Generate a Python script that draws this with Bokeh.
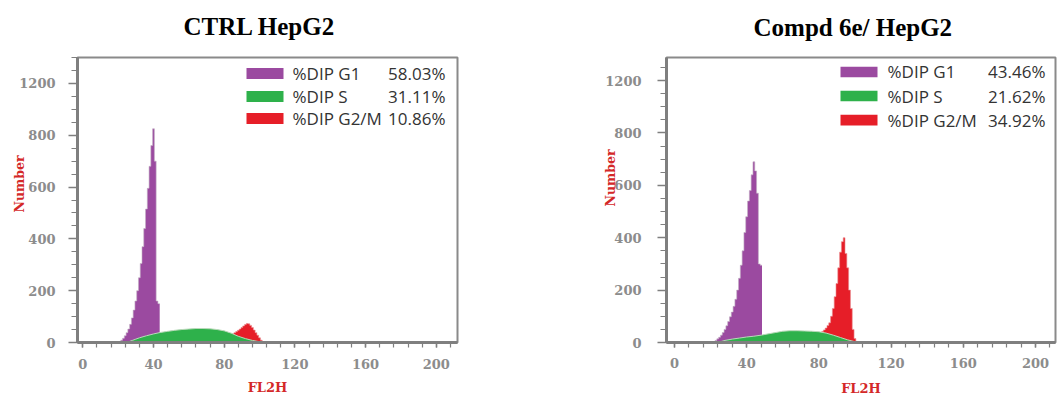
from bokeh.plotting import figure
from bokeh.layouts import row
from bokeh.models import FixedTicker, Label, BoxAnnotation, Range1d, Title
from bokeh.embed import file_html
from bokeh.resources import INLINE

# ---------------- data ----------------
# CTRL HepG2
ctrl_g1_x = list(range(20, 44))
ctrl_g1_n = [0, 4, 9, 16, 26, 38, 52, 70, 95, 125, 160, 200, 250, 305, 370, 440,
             515, 595, 680, 760, 825, 700, 160, 150]
ctrl_s_x = [24, 26, 28, 30, 32, 36, 40, 44, 48, 52, 56, 60, 64, 68, 72, 76, 80,
            84, 88, 92, 96, 100, 102]
ctrl_s_n = [0, 3, 8, 13, 18, 26, 33, 39, 43, 47, 50, 52, 54, 54, 53, 50, 45,
            36, 24, 15, 8, 3, 0]
ctrl_g2_x = list(range(85, 103))
ctrl_g2_n = [34, 38, 42, 47, 52, 58, 64, 69, 73, 72, 66, 58, 48, 38, 28, 18, 9, 3]
ctrl_labels = ["%DIP G1", "%DIP S", "%DIP G2/M"]
ctrl_pcts = ["58.03%", "31.11%", "10.86%"]

# Compd 6e / HepG2
compd_g1_x = list(range(22, 49))
compd_g1_n = [3, 8, 14, 20, 28, 38, 50, 64, 80, 98, 116, 138, 165, 200, 245, 295,
              350, 420, 480, 540, 580, 640, 690, 655, 570, 300, 295]
compd_s_x = [24, 28, 32, 36, 40, 44, 48, 52, 56, 60, 64, 68, 72, 76, 80, 84, 88,
             92, 96, 100, 102]
compd_s_n = [0, 8, 13, 17, 21, 24, 28, 33, 38, 43, 45, 45, 44, 43, 41, 36, 28,
             19, 10, 3, 0]
compd_g2_x = list(range(82, 102))
compd_g2_n = [42, 48, 55, 65, 75, 100, 130, 175, 225, 285, 345, 385, 400, 340,
              285, 200, 130, 50, 15, 4]
compd_labels = ["%DIP G1", "%DIP S", "%DIP G2/M"]
compd_pcts = ["43.46%", "21.62%", "34.92%"]

x_ticks = [0, 40, 80, 120, 160, 200]
y_ticks = [0, 200, 400, 600, 800, 1000]
y_tick_text = {1000: "1200"}

PURPLE = "#9b4aa0"
GREEN = "#2eb14b"
RED = "#e61e28"
GRAY = "#8c8c8c"
AXRED = "#d42828"


def step_outline(centers, counts):
    xs, ys = [], []
    for c, n in zip(centers, counts):
        xs += [c - 0.5, c + 0.5]
        ys += [n, n]
    return xs, ys


def make_panel(title, g1x, g1n, sx, sn, g2x, g2n, labels, pcts, geo):
    W, H = geo["W"], geo["H"]
    bl, bt = geo["bl"], geo["bt"]
    fw, fh = geo["fw"], geo["fh"]
    x0, x1 = geo["xr"]
    y0, y1 = geo["yr"]
    p = figure(width=W, height=H, output_backend="svg", toolbar_location=None,
               x_range=Range1d(x0, x1), y_range=Range1d(y0, y1), title=None)
    p.min_border_left = bl
    p.min_border_top = bt
    p.min_border_right = W - bl - fw
    p.min_border_bottom = H - bt - fh
    p.background_fill_color = "white"
    p.border_fill_color = "white"
    p.outline_line_color = "#8a8a8a"
    p.outline_line_width = 2
    p.xgrid.visible = False
    p.ygrid.visible = False

    def dx(px):
        return x0 + (px - bl) * (x1 - x0) / fw

    def dy(py):
        return y1 - (py - bt) * (y1 - y0) / fh

    gx, gy = step_outline(g1x, g1n)
    p.varea(x=gx, y1=[0] * len(gx), y2=gy, fill_color=PURPLE)
    p.line(x=gx, y=gy, line_color="#c2aec3", line_width=1, line_alpha=0.6)
    rx, ry_ = step_outline(g2x, g2n)
    p.varea(x=rx, y1=[0] * len(rx), y2=ry_, fill_color=RED)
    p.line(x=rx, y=ry_, line_color="#e98a8e", line_width=1, line_alpha=0.6)
    p.varea(x=sx, y1=[0] * len(sx), y2=sn, fill_color=GREEN)
    p.line(x=sx, y=sn, line_color="#b9d9b9", line_width=1)

    for ax in (p.xaxis[0], p.yaxis[0]):
        ax.axis_line_color = "#7f7f7f"
        ax.axis_line_width = 3
        ax.major_tick_line_color = "#7f7f7f"
        ax.minor_tick_line_color = "#7f7f7f"
        ax.major_tick_line_width = 1.5
        ax.minor_tick_line_width = 1.2
        ax.major_tick_in = 0
        ax.minor_tick_in = 0
        ax.major_label_text_font = "DejaVu Serif"
        ax.major_label_text_font_style = "bold"
        ax.major_label_text_font_size = "13px"
        ax.major_label_text_color = GRAY

    p.xaxis.ticker = FixedTicker(ticks=x_ticks, minor_ticks=list(range(0, 212, 8)))
    p.xaxis.major_tick_out = 5
    p.xaxis.minor_tick_out = 5
    p.xaxis.major_label_standoff = geo["xstand"]
    p.xaxis.axis_label = "FL2H"
    p.xaxis.axis_label_standoff = geo["fl2h_stand"]
    p.xaxis.axis_label_text_font = "DejaVu Serif"
    p.xaxis.axis_label_text_font_style = "bold"
    p.xaxis.axis_label_text_font_size = "13px"
    p.xaxis.axis_label_text_color = AXRED

    p.yaxis.ticker = FixedTicker(ticks=y_ticks, minor_ticks=list(range(0, int(y1) + 1, 50)))
    p.yaxis.major_label_overrides = y_tick_text
    p.yaxis.major_tick_out = 9
    p.yaxis.minor_tick_out = 6
    p.yaxis.major_label_standoff = geo["ystand"]

    num = Title(text="Number", align="left", offset=geo["num_off"],
                standoff=geo["num_stand"], text_font="DejaVu Serif",
                text_font_style="bold", text_font_size="12.5px",
                text_color=AXRED)
    p.add_layout(num, "left")

    # spacer between frame and title, then the title itself
    p.add_layout(Title(text=" ", text_font_size=geo["spacer"], standoff=0), "above")
    p.add_layout(Title(text=title, align="left", offset=geo["title_off"], standoff=0,
                       text_font="Liberation Serif", text_font_style="bold",
                       text_font_size="25px", text_color="black"), "above")

    # legend
    sl, sr = geo["sw"]
    for color, lab, pct, ry in zip([PURPLE, GREEN, RED], labels, pcts, geo["rows"]):
        p.add_layout(BoxAnnotation(left=dx(sl), right=dx(sr), bottom=dy(ry + 5.5),
                                   top=dy(ry - 5.5), fill_color=color, fill_alpha=1,
                                   line_color=None, level="overlay"))
        p.add_layout(Label(x=dx(geo["tl"]), y=dy(ry), text=lab, text_align="left",
                           text_baseline="middle", text_font="Open Sans",
                           text_font_size="17px", text_color="#333333"))
        p.add_layout(Label(x=dx(geo["tr"]), y=dy(ry), text=pct, text_align="right",
                           text_baseline="middle", text_font="Open Sans",
                           text_font_size="17px", text_color="#333333"))
    return p


geo_left = dict(W=568, H=401, bl=77, bt=57, fw=380, fh=285,
                xr=(-3, 212), yr=(0, 1100), xstand=11, ystand=13,
                fl2h_stand=8, num_off=130, num_stand=-20,
                spacer="14px", title_off=106,
                sw=(246, 283), rows=(73, 96, 118), tl=292, tr=445)
geo_right = dict(W=490, H=401, bl=98, bt=48, fw=389, fh=296,
                 xr=(-4.4, 211.1), yr=(0, 1088), xstand=10, ystand=16,
                 fl2h_stand=10, num_off=136, num_stand=-30,
                 spacer="13px", title_off=87,
                 sw=(272, 309), rows=(63, 88, 113), tl=319, tr=477)

p1 = make_panel("CTRL HepG2", ctrl_g1_x, ctrl_g1_n, ctrl_s_x, ctrl_s_n,
                ctrl_g2_x, ctrl_g2_n, ctrl_labels, ctrl_pcts, geo_left)
p2 = make_panel("Compd 6e/ HepG2", compd_g1_x, compd_g1_n, compd_s_x, compd_s_n,
                compd_g2_x, compd_g2_n, compd_labels, compd_pcts, geo_right)

layout = row(p1, p2)
open("out.html", "w").write(file_html(layout, INLINE))
